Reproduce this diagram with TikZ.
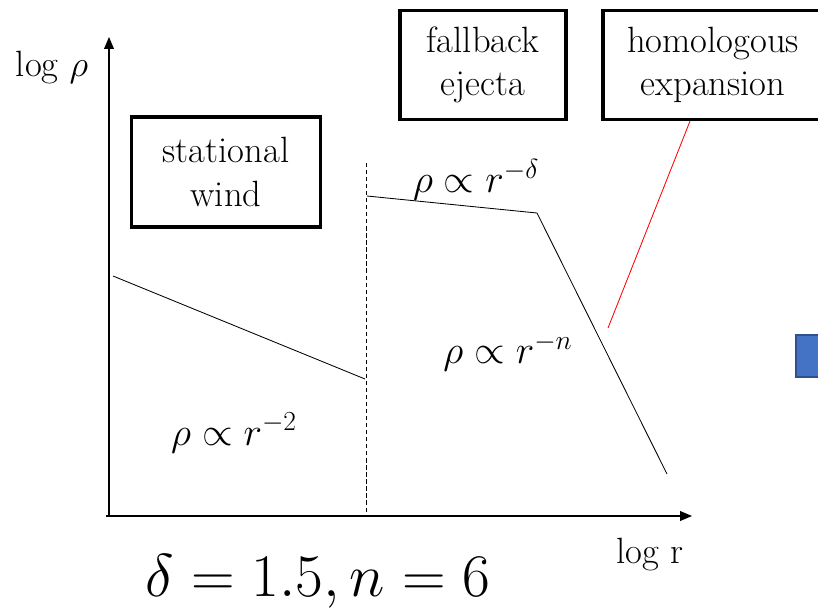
\RequirePackage{fix-cm}
\documentclass[tikz,border=0pt]{standalone}
\usepackage{amsmath}
\usepackage{fontspec}
\usetikzlibrary{arrows.meta,positioning}
\definecolor{boxblue}{HTML}{4472C4}
\definecolor{boxblueline}{HTML}{2F528F}

\begin{document}
\begin{tikzpicture}[x=0.025cm, y=-0.025cm,
    every node/.style={font=\fontsize{26}{31}\selectfont},
    regbox/.style={draw, line width=2.2pt, align=center, inner sep=0pt},
    ax/.style={-{Triangle[length=8.5pt,width=7pt]}, line width=0.8pt},
    prof/.style={line width=0.6pt},
    lab/.style={font=\fontsize{28}{34}\selectfont, inner sep=0pt},
  ]
  \clip (0,0) rectangle (818,608);

  %% axes
  \coordinate (origin) at (109,516);
  \coordinate (ytop)   at (109,37);
  \coordinate (xend)   at (692,516);
  \draw[ax] (origin) -- (ytop);
  \draw[ax] ([xshift=-2pt]origin) -- (xend);
  \node (ylab) at (52,68)  {log $\rho$};
  \node (xlab) at (650,555) {log r};

  %% region boxes
  \node[regbox, minimum width=4.73cm, minimum height=2.75cm] (wind)  at (226,172) {stational\\wind};
  \node[regbox, minimum width=4.15cm, minimum height=2.73cm] (fall)  at (483,65)  {fallback\\ejecta};
  \node[regbox, minimum width=5.5cm,  minimum height=2.73cm] (homol) at (713,65)  {homologous\\expansion};

  %% density profile
  \coordinate (w0) at (113,276);
  \coordinate (w1) at (365,379);
  \coordinate (f0) at (367,196);
  \coordinate (f1) at (537,213);
  \coordinate (n1) at (667,474);
  \coordinate (d0) at (366,163);
  \coordinate (d1) at (366,513);
  \draw[prof] (w0) -- (w1);
  \draw[prof] (f0) -- (f1) -- (n1);
  \draw[prof, dash pattern=on 3pt off 2pt] (d0) -- (d1);

  %% slopes
  \node[lab] (sdelta) at (476,180) {$\rho\propto r^{-\delta}$};
  \node[lab] (sn)     at (508,352) {$\rho\propto r^{-n}$};
  \node[lab] (stwo)   at (234,433) {$\rho\propto r^{-2}$};
  \node[font=\fontsize{43}{49}\selectfont] (params) at (318,581) {$\delta = 1.5, n = 6$};

  %% pointer to outer part
  \coordinate (hook) at (608,328);
  \draw[red, line width=0.6pt] ([xshift=-0.575cm]homol.south) -- (hook);

  %% block at right edge
  \node[fill=boxblue, draw=boxblueline, line width=1pt, minimum width=0.6cm, minimum height=1.05cm, inner sep=0pt] (blk) at (808,356) {};
\end{tikzpicture}
\end{document}
